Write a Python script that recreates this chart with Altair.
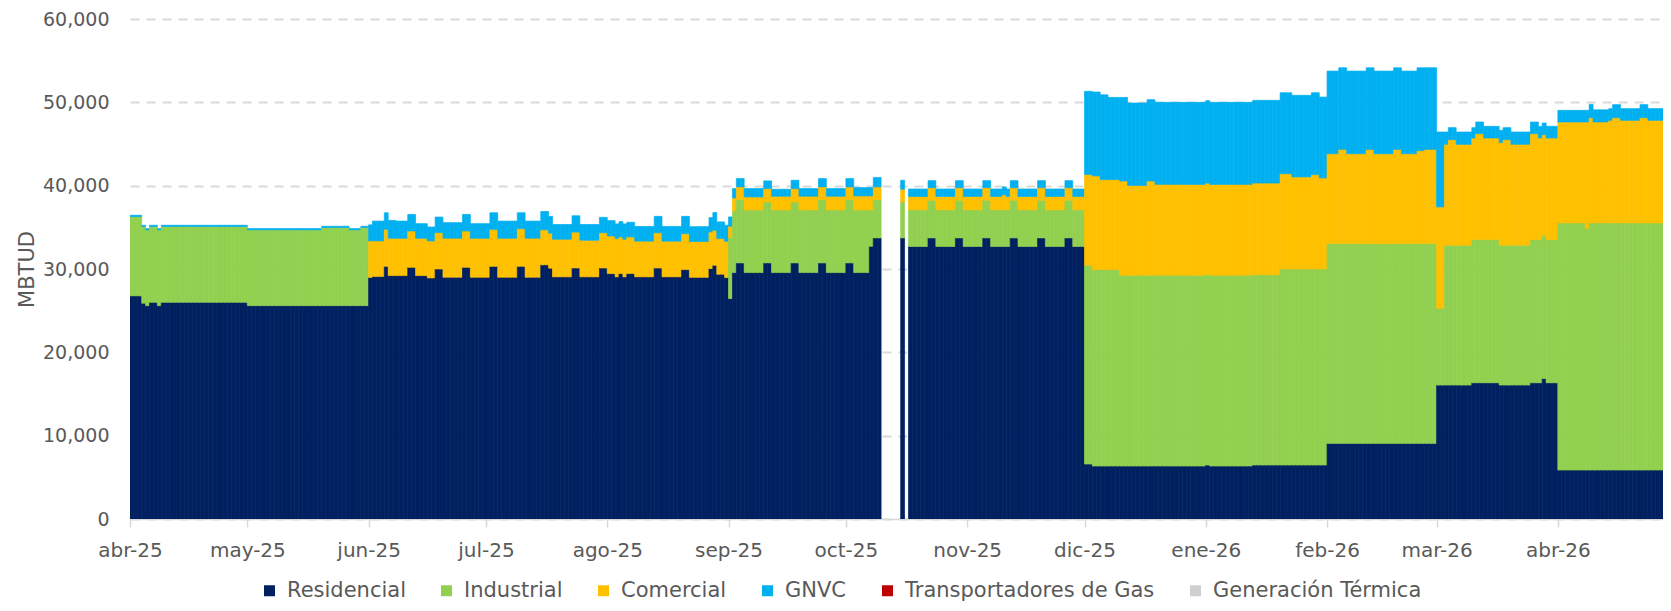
import altair as alt
import pandas as pd

START = "2025-04-01"

# Length (days) of each run of equal daily values
SEG_DAYS = [3, 1, 1, 2, 1, 22, 19, 7, 3, 2,
            1, 3, 1, 2, 3, 2, 3, 2, 2, 5, 2, 5, 2, 5, 2, 4, 2, 1, 5, 2, 5, 2, 2, 1, 1, 1, 2, 5, 2, 5, 2, 5, 1, 1, 2, 1,
            1, 1, 2, 5, 2, 5, 2, 5, 2, 5, 2, 4, 1, 2, 5, 1, 1,
            5, 2, 5, 2, 5, 2, 3, 1, 1, 2, 5, 2, 5, 2, 3,
            2, 2, 2, 3, 2, 5, 2, 13, 1, 11, 7, 3, 5, 2, 2,
            3, 2, 5, 2, 5, 2, 4, 2, 3,
            2, 1, 2, 4, 1, 2, 4, 1, 2, 5, 2, 1, 1, 3,
            7, 1, 1, 4, 1, 2, 5, 2, 5, 2]

RESIDENCIAL = [26780, 25900, 25600, 26000, 25600, 26000, 25600, 25600, 25600, 25600,
               28980, 29100, 30320, 29210, 29210, 30200, 29210, 28930, 30000, 29010, 30200, 29010, 30320, 29010,
               30320, 29010, 30500, 30100, 29060, 30120, 29060, 30120, 29450, 29060, 29450, 29060, 29450, 29060,
               30120, 29060, 29930, 29000, 30050, 30450, 29370, 28970,
               26450, 29570, 30730, 29570, 30730, 29570, 30730, 29570, 30730, 29570, 30730, 29570, 32730, 33730,
               0, 33730, 0,
               32700, 33730, 32700, 33730, 32700, 33730, 32700, 32700, 32700, 33730, 32700, 33730, 32700, 33730, 32700,
               6595, 6355, 6355, 6355, 6355, 6355, 6355, 6355, 6475, 6355, 6475, 6475, 6475, 6475, 6475,
               9070, 9070, 9070, 9070, 9070, 9070, 9070, 9070, 9070,
               16070, 16070, 16070, 16070, 16345, 16345, 16345, 16070, 16070, 16070, 16345, 16345, 16865, 16345,
               5875, 5875, 5875, 5875, 5875, 5875, 5875, 5875, 5875, 5875]

INDUSTRIAL = [9510, 9200, 9100, 9100, 9100, 9100, 9100, 9380, 9100, 9380,
              0, 0, 0, 0, 0, 0, 0, 0, 0, 0, 0, 0, 0, 0, 0, 0, 0, 0, 0, 0, 0, 0, 0, 0, 0, 0, 0, 0, 0, 0, 0, 0, 0, 0,
              0, 0,
              7320, 7400, 7600, 7520, 7320, 7520, 7320, 7520, 7600, 7520, 7600, 7520, 4360, 4600, 0, 4320, 0,
              4400, 4520, 4400, 4520, 4400, 4520, 4400, 4400, 4400, 4520, 4400, 4520, 4400, 4520, 4400,
              23855, 23575, 23575, 23575, 22895, 22895, 22895, 22895, 22895, 22895, 22825, 23535, 23535, 23535, 23535,
              23980, 23980, 23980, 23980, 23980, 23980, 23980, 23980, 23980,
              9230, 16780, 16780, 16780, 17185, 17185, 17185, 16780, 16780, 16780, 17185, 17185, 17185, 17185,
              29655, 28975, 29655, 29655, 29655, 29655, 29655, 29655, 29655, 29655]

COMERCIAL = [0, 0, 0, 0, 0, 0, 0, 0, 0, 0,
             4390, 4270, 4440, 4480, 4480, 4360, 4480, 4440, 4370, 4680, 4360, 4680, 4440, 4680, 4520, 4680, 4200,
             4200, 4510, 4310, 4390, 4230, 4510, 4590, 4400, 4510, 4400, 4280, 4230, 4280, 4310, 4300, 4400, 4200,
             4280, 4360,
             1360, 1560, 1520, 1560, 1600, 1640, 1600, 1640, 1520, 1640, 1520, 1680, 1680, 1520, 0, 1520, 0,
             1600, 1500, 1600, 1500, 1600, 1500, 1600, 1800, 1600, 1500, 1600, 1500, 1600, 1500, 1600,
             10880, 11240, 10800, 10800, 11310, 10780, 11310, 10900, 10940, 10900, 11010, 11420, 11040, 11310, 10920,
             10780, 11300, 10780, 11300, 10780, 11300, 10780, 11150, 11300,
             12150, 12110, 12670, 12110, 12190, 12710, 12190, 12310, 12670, 12110, 12710, 12190, 12070, 12190,
             12110, 12790, 12630, 12110, 12310, 12630, 12310, 12630, 12310, 12630]

GNVC = [160, 150, 150, 150, 150, 150, 150, 150, 150, 150,
        1930, 2380, 1990, 2140, 2060, 1990, 1750, 1670, 1860, 1870, 1990, 1750, 1990, 2060, 1910, 2060, 2200, 2000,
        1770, 1960, 1890, 1850, 1850, 1760, 1840, 1840, 1760, 1760, 1970, 1760, 2080, 1780, 1720, 2120, 2000, 1920,
        1120, 1120, 1000, 1000, 920, 840, 1000, 920, 1000, 920, 1000, 1000, 1000, 1120, 0, 1080, 0,
        900, 850, 900, 850, 900, 850, 900, 950, 900, 850, 900, 850, 900, 850, 900,
        9990, 10070, 10170, 9860, 10030, 9890, 9760, 9850, 9890, 9850, 9930, 9720, 9790, 9830, 9700,
        9920, 9800, 9920, 9800, 9920, 9800, 9920, 9950, 9800,
        8990, 1480, 1440, 1480, 1240, 1400, 1400, 1480, 1440, 1480, 1400, 1400, 1400, 1400,
        1400, 1400, 1600, 1460, 1400, 1560, 1400, 1560, 1400, 1560]

SERIES = ["Residencial", "Industrial", "Comercial", "GNVC",
          "Transportadores de Gas", "Generación Térmica"]
COLORS = ["#002060", "#92D050", "#FFC000", "#00B0F0", "#C00000", "#D0CECE"]

MONTH_TICKS = [(2025, 4), (2025, 5), (2025, 6), (2025, 7), (2025, 8), (2025, 9), (2025, 10),
               (2025, 11), (2025, 12), (2026, 1), (2026, 2), (2026, 3), (2026, 4)]
Y_TICKS = [0, 10000, 20000, 30000, 40000, 50000, 60000]

FONT = "DejaVu Sans"
TEXT = "#595959"

values = {"Residencial": RESIDENCIAL, "Industrial": INDUSTRIAL,
          "Comercial": COMERCIAL, "GNVC": GNVC}

dates = pd.date_range(START, periods=sum(SEG_DAYS) + 1, freq="D")
rows = []
day = 0
for seg, n in enumerate(SEG_DAYS):
    for _ in range(n):
        d0 = dates[day].strftime("%Y-%m-%d")
        d1 = dates[day + 1].strftime("%Y-%m-%d")
        for k, name in enumerate(SERIES[:4]):
            v = values[name][seg]
            if v > 0:
                rows.append({"fecha": d0, "fecha_fin": d1, "serie": name, "valor": v, "orden": k})
        day += 1
df = pd.DataFrame(rows)

month_expr = ("['ene','feb','mar','abr','may','jun','jul','ago','sep','oct','nov','dic']"
              "[utcmonth(datum.value)] + '-' + utcFormat(datum.value, '%y')")

x_axis = alt.Axis(
    values=[alt.DateTime(year=y, month=m, date=1, utc=True) for y, m in MONTH_TICKS],
    labelExpr=month_expr, grid=False,
    domainColor="#d9d9d9", domainWidth=1.5,
    tickColor="#d9d9d9", tickSize=8, tickWidth=1.5,
    labelFont=FONT, labelFontSize=20, labelColor=TEXT, labelPadding=13,
    labelFlush=False, labelOverlap=False, title=None,
)

y_axis = alt.Axis(
    values=Y_TICKS, format=",d", grid=True, gridDash=[9, 7], gridColor="#d9d9d9", gridWidth=2,
    domain=False, ticks=False, tickSize=0,
    labelFont=FONT, labelFontSize=19, labelColor=TEXT, labelPadding=21,
    title="MBTUD", titleFont=FONT, titleFontSize=21, titleFontWeight="normal",
    titleColor=TEXT, titlePadding=5,
)

color_scale = alt.Scale(domain=SERIES, range=COLORS)

chart = alt.Chart(df).transform_stack(
    stack="valor", groupby=["fecha"], as_=["v0", "v1"],
    sort=[alt.SortField("orden", order="ascending")], offset="zero",
).mark_rect(clip=True, strokeWidth=0.7).encode(
    x=alt.X("fecha:T", axis=x_axis,
            scale=alt.Scale(type="utc", domain=[
                alt.DateTime(year=2025, month=4, date=1, utc=True),
                alt.DateTime(year=2026, month=4, date=27, hours=21, utc=True)])),
    x2=alt.X2("fecha_fin:T"),
    y=alt.Y("v0:Q", axis=y_axis, scale=alt.Scale(domain=[0, 60000], nice=False)),
    y2=alt.Y2("v1:Q"),
    color=alt.Color("serie:N", scale=color_scale, legend=alt.Legend(
        title=None, orient="none", legendX=129, legendY=561, direction="horizontal",
        symbolType="square", symbolSize=121, symbolStrokeWidth=0,
        labelFont=FONT, labelFontSize=21, labelColor=TEXT, labelLimit=400,
        labelOffset=7, columnPadding=30, padding=0)),
    stroke=alt.Stroke("serie:N", scale=color_scale, legend=None),
).properties(
    width=1533, height=500,
    padding={"left": 122, "top": 11, "right": 0, "bottom": 84},
    autosize=alt.AutoSizeParams(type="none"),
).configure_view(stroke=None)

chart.save("out.html", embed_options={"renderer": "svg", "actions": False})
